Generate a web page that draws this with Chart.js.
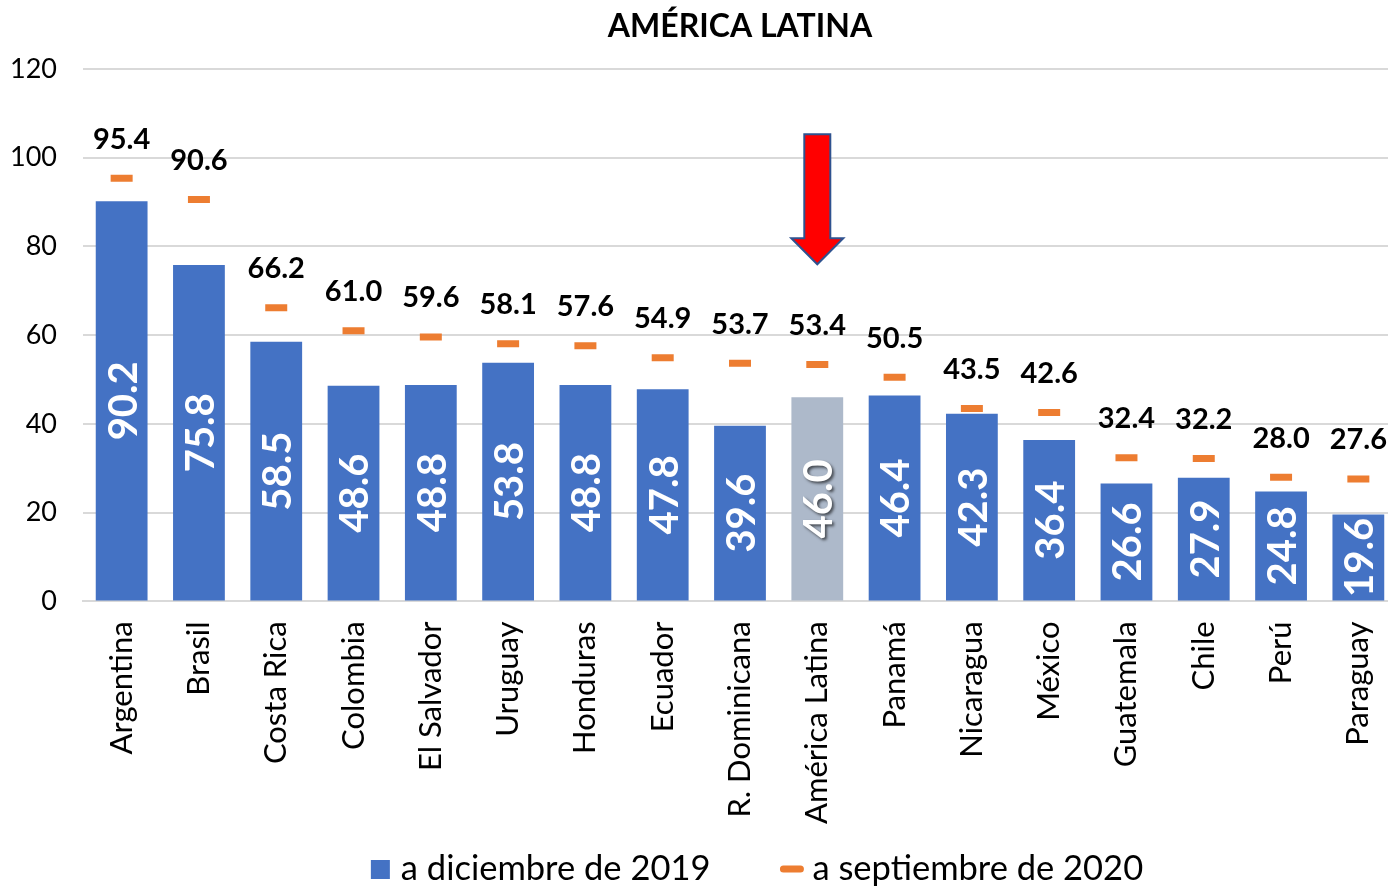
<!DOCTYPE html>
<html>
<head>
<meta charset="utf-8">
<script src="https://cdn.jsdelivr.net/npm/chart.js@4/dist/chart.umd.min.js"></script>
<style>
	html, body {margin: 0; padding: 0; background: #fff; overflow: hidden;}
	#wrap {width: 1415px; height: 888px; position: relative;}
</style>
</head>
<body>
<div id="wrap"><canvas id="chart_deuda"></canvas></div>
<script>
// datos
var chartTitle = 'AMÉRICA LATINA';
var paises = ['Argentina', 'Brasil', 'Costa Rica', 'Colombia', 'El Salvador', 'Uruguay', 'Honduras', 'Ecuador',
	'R. Dominicana', 'América Latina', 'Panamá', 'Nicaragua', 'México', 'Guatemala', 'Chile', 'Perú', 'Paraguay'];
var dic2019 = [90.2, 75.8, 58.5, 48.6, 48.8, 53.8, 48.8, 47.8, 39.6, 46.0, 46.4, 42.3, 36.4, 26.6, 27.9, 24.8, 19.6];
var sep2020 = [95.4, 90.6, 66.2, 61.0, 59.6, 58.1, 57.6, 54.9, 53.7, 53.4, 50.5, 43.5, 42.6, 32.4, 32.2, 28.0, 27.6];
var serieNames = ['a diciembre de 2019', 'a septiembre de 2020'];
var yTicks = [0, 20, 40, 60, 80, 100, 120];
var destacado = 'América Latina';
// flecha: de valor 105.3 hasta la punta en 76
var flechaDesde = 105.3;
var flechaHasta = 76;

var AZUL = '#4472C4', GRIS = '#ADB9CA', NARANJA = '#ED7D31';
var FONT = 'Lato, sans-serif';

Chart.defaults.font.family = FONT;
Chart.defaults.color = '#000';

var barColors = paises.map(function (p) {
	return p === destacado ? GRIS : AZUL;
});

var extras = {
	id: 'extras',
	afterDatasetsDraw: function (chart) {
		var ctx = chart.ctx, area = chart.chartArea;
		var xs = chart.scales.x, ys = chart.scales.y;
		ctx.save();

		// titulo
		ctx.font = 'bold 32px ' + FONT;
		ctx.fillStyle = '#000';
		ctx.textAlign = 'center';
		ctx.textBaseline = 'middle';
		ctx.fillText(chartTitle, (area.left + area.right) / 2, 27);

		// etiquetas dentro de las barras
		var bars = chart.getDatasetMeta(0).data;
		bars.forEach(function (bar, i) {
			ctx.save();
			ctx.translate(bar.x, (bar.y + bar.base) / 2);
			ctx.rotate(-Math.PI / 2);
			ctx.font = 'bold 40px ' + FONT;
			ctx.fillStyle = '#fff';
			ctx.textAlign = 'center';
			ctx.textBaseline = 'middle';
			if (paises[i] === destacado) {
				ctx.shadowColor = 'rgba(0,0,0,0.6)';
				ctx.shadowOffsetX = 2;
				ctx.shadowOffsetY = 2;
				ctx.shadowBlur = 3;
			}
			ctx.fillText(dic2019[i].toFixed(1), 0, 2);
			ctx.restore();
		});

		// etiquetas sobre los marcadores
		var pts = chart.getDatasetMeta(1).data;
		ctx.font = 'bold 29px ' + FONT;
		ctx.fillStyle = '#000';
		pts.forEach(function (pt, i) {
			ctx.fillText(sep2020[i].toFixed(1), pt.x, pt.y - 39);
		});

		// flecha
		var ax = xs.getPixelForValue(paises.indexOf(destacado));
		var top = ys.getPixelForValue(flechaDesde);
		var tip = ys.getPixelForValue(flechaHasta);
		var head = tip - 26;
		ctx.beginPath();
		ctx.moveTo(ax - 13, top);
		ctx.lineTo(ax + 13, top);
		ctx.lineTo(ax + 13, head);
		ctx.lineTo(ax + 26, head);
		ctx.lineTo(ax, tip);
		ctx.lineTo(ax - 26, head);
		ctx.lineTo(ax - 13, head);
		ctx.closePath();
		ctx.fillStyle = '#FF0000';
		ctx.fill();
		ctx.lineWidth = 2;
		ctx.strokeStyle = '#2F528F';
		ctx.stroke();

		// leyenda
		ctx.font = '34.5px ' + FONT;
		ctx.textAlign = 'left';
		var w1 = ctx.measureText(serieNames[0]).width;
		var w2 = ctx.measureText(serieNames[1]).width;
		var total = 19 + 11 + w1 + 70 + 23 + 9 + w2;
		var lx = (area.left + area.right) / 2 + 17 - total / 2;
		var ly = 869;
		ctx.fillStyle = AZUL;
		ctx.fillRect(lx, ly - 9, 19, 19);
		ctx.fillStyle = '#000';
		ctx.fillText(serieNames[0], lx + 30, ly);
		var dx = lx + 30 + w1 + 70;
		ctx.strokeStyle = NARANJA;
		ctx.lineWidth = 7;
		ctx.lineCap = 'round';
		ctx.beginPath();
		ctx.moveTo(dx + 3, ly);
		ctx.lineTo(dx + 20, ly);
		ctx.stroke();
		ctx.fillText(serieNames[1], dx + 32, ly);

		ctx.restore();
	}
};

var chart = new Chart(document.getElementById('chart_deuda'), {
	type: 'bar',
	data: {
		labels: paises,
		datasets: [
			{
				label: serieNames[0],
				data: dic2019,
				backgroundColor: barColors,
				barPercentage: 0.67,
				categoryPercentage: 1.0,
				order: 2
			},
			{
				type: 'line',
				label: serieNames[1],
				data: sep2020,
				showLine: false,
				pointStyle: 'line',
				pointRadius: 11,
				pointHoverRadius: 11,
				pointBorderWidth: 7,
				borderColor: NARANJA,
				backgroundColor: NARANJA,
				order: 1
			}
		]
	},
	options: {
		responsive: true,
		maintainAspectRatio: false,
		animation: false,
		events: [],
		layout: {padding: {top: 69, bottom: 44, left: 0, right: 0}},
		plugins: {
			legend: {display: false},
			title: {display: false},
			tooltip: {enabled: false}
		},
		scales: {
			x: {
				afterFit: function (scale) {
					scale.paddingLeft = 0;
					scale.paddingRight = 0;
				},
				grid: {display: false, drawTicks: false},
				border: {color: '#d9d9d9', width: 2},
				ticks: {
					font: {size: 31},
					minRotation: 90,
					maxRotation: 90,
					padding: 20,
					autoSkip: false
				}
			},
			y: {
				min: 0,
				max: 120,
				afterFit: function (scale) { scale.width = 83; },
				afterBuildTicks: function (scale) {
					scale.ticks = yTicks.map(function (v) { return {value: v}; });
				},
				grid: {color: '#d9d9d9', lineWidth: 2, drawTicks: false},
				border: {display: false},
				ticks: {font: {size: 27}, padding: 26}
			}
		}
	},
	plugins: [extras]
});
</script>
</body>
</html>
